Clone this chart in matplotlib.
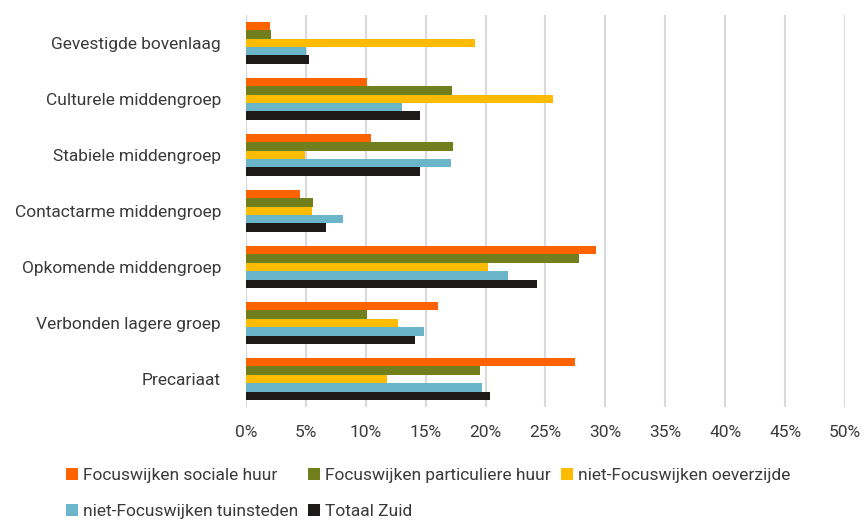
import numpy as np
import matplotlib.pyplot as plt
from matplotlib.ticker import MultipleLocator, FuncFormatter

# categories, top to bottom
groepen = ['Gevestigde bovenlaag', 'Culturele middengroep', 'Stabiele middengroep',
           'Contactarme middengroep', 'Opkomende middengroep',
           'Verbonden lagere groep', 'Precariaat']

series_names = ['Focuswijken sociale huur', 'Focuswijken particuliere huur',
                'niet-Focuswijken oeverzijde', 'niet-Focuswijken tuinsteden',
                'Totaal Zuid']

sociale_huur = [2.0, 10.1, 10.4, 4.5, 29.2, 16.0, 27.5]
particuliere_huur = [2.1, 17.2, 17.3, 5.6, 27.8, 10.1, 19.5]
oeverzijde = [19.1, 25.6, 4.9, 5.5, 20.2, 12.7, 11.8]
tuinsteden = [5.0, 13.0, 17.1, 8.1, 21.9, 14.9, 19.7]
totaal_zuid = [5.3, 14.5, 14.5, 6.7, 24.3, 14.1, 20.4]

colors = ['#FF6200', '#71801D', '#FFBB00', '#6BB5CA', '#1E1A1A']
values = [sociale_huur, particuliere_huur, oeverzijde, tuinsteden, totaal_zuid]

plt.rcParams['font.family'] = ['Roboto', 'DejaVu Sans']
text_color = '#3A3A3A'
fs = 12.5

fig = plt.figure(figsize=(8.67, 5.21), dpi=100)
ax = fig.add_axes([0.2837, 0.2188, 0.6909, 0.753])

y = np.arange(len(groepen))
h = 0.15
bars = []
for j, (vals, c) in enumerate(zip(values, colors)):
    b = ax.barh(y + (j - 2) * h, vals, height=h, color=c, label=series_names[j], zorder=3)
    bars.append(b)

ax.set_ylim(len(groepen) - 0.5, -0.5)
ax.set_xlim(0, 50)
ax.set_yticks(y)
ax.set_yticklabels(groepen)
ax.xaxis.set_major_locator(MultipleLocator(5))
ax.xaxis.set_major_formatter(FuncFormatter(lambda v, p: f'{v:.0f}%'))
ax.tick_params(axis='both', length=0, labelsize=fs, colors=text_color)
ax.tick_params(axis='y', pad=18)
ax.tick_params(axis='x', pad=13)
ax.grid(axis='x', color='#D9D9D9', linewidth=1.5, zorder=0)
for s in ax.spines.values():
    s.set_visible(False)

# legend rows filled left to right
order = [0, 3, 1, 4, 2]
leg = fig.legend([bars[i] for i in order], [series_names[i] for i in order],
                 loc='lower left', bbox_to_anchor=(0.058, -0.026), ncol=3,
                 frameon=False, fontsize=fs, handlelength=0.7, handleheight=0.7,
                 handletextpad=0.3, columnspacing=0.55, labelspacing=1.2,
                 labelcolor=text_color)

fig.savefig('out.png', dpi=100)
